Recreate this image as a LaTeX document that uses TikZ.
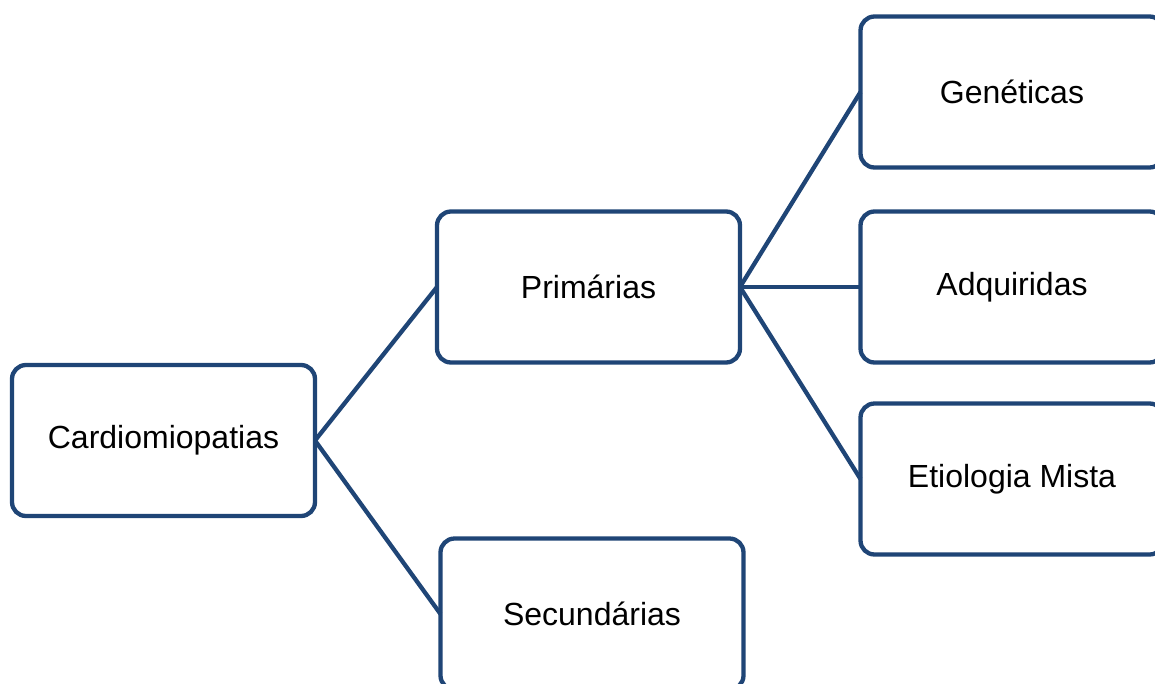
\documentclass[tikz,border=0pt]{standalone}
\usepackage{fontspec}
\setmainfont{Liberation Sans}
\definecolor{boxblue}{RGB}{31,69,118}
\tikzset{
  box/.style={draw=boxblue, line width=4.3pt, rounded corners=14pt, fill=white,
    minimum width=303pt, minimum height=151pt, inner sep=0pt, outer sep=0pt,
    font=\fontsize{32pt}{36pt}\selectfont, text=black},
  link/.style={draw=boxblue, line width=4.3pt}
}
\begin{document}
\begin{tikzpicture}[x=1pt,y=-1pt]
\useasboundingbox (0,0) rectangle (1155,683);
\clip (0,0) rectangle (1155,683);
\node[box] (cardio) at (163.5,440.5) {Cardiomiopatias};
\node[box] (prim) at (588.5,287) {Primárias};
\node[box] (sec) at (592,614) {Secundárias};
\node[box] (gen) at (1012,92) {Genéticas};
\node[box] (adq) at (1012,287) {Adquiridas};
\node[box] (eti) at (1012,479) {Etiologia Mista};
\draw[link] (cardio.east) -- (prim.west);
\draw[link] (cardio.east) -- (sec.west);
\draw[link] (prim.east) -- (gen.west);
\draw[link] (prim.east) -- (adq.west);
\draw[link] (prim.east) -- (eti.west);
\end{tikzpicture}
\end{document}
